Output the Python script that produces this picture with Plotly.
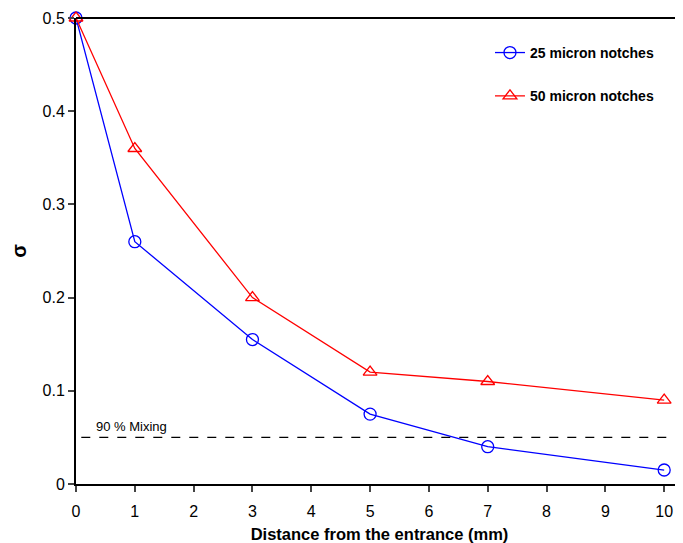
import plotly.graph_objects as go

distance = [0, 1, 3, 5, 7, 10]
sigma_25 = [0.5, 0.26, 0.155, 0.075, 0.04, 0.015]
sigma_50 = [0.5, 0.36, 0.2, 0.12, 0.11, 0.09]
mixing_level = 0.05
mixing_label = "90 % Mixing"
x_ticks = list(range(0, 11))
y_ticks = [0, 0.1, 0.2, 0.3, 0.4, 0.5]
y_tick_text = ["0", "0.1", "0.2", "0.3", "0.4", "0.5"]

FONT = "Liberation Sans, Arial, sans-serif"

fig = go.Figure()
fig.add_trace(go.Scatter(
    x=distance, y=sigma_25, mode="lines+markers", name="<b>25 micron notches</b>",
    line=dict(color="#0000ff", width=1.3), cliponaxis=False,
    marker=dict(symbol="circle-open", size=12, color="#0000ff", line=dict(width=1.3)),
    legend="legend", showlegend=True))
fig.add_trace(go.Scatter(
    x=distance, y=sigma_50, mode="lines+markers", name="<b>50 micron notches</b>",
    line=dict(color="#ff0000", width=1.3), cliponaxis=False,
    marker=dict(symbol="triangle-up-open", size=12, color="#ff0000", line=dict(width=1.3)),
    legend="legend2", showlegend=True))

fig.add_shape(type="line", xref="x", yref="y", x0=0.09, x1=10.4, y0=mixing_level, y1=mixing_level,
              line=dict(color="black", width=1.3, dash="dash"))
fig.add_shape(type="line", xref="paper", yref="paper", x0=0, x1=1, y0=1, y1=1,
              line=dict(color="black", width=2))
fig.add_annotation(x=0.3, y=mixing_level, xref="x", yref="y", text=mixing_label,
                   showarrow=False, xanchor="left", yanchor="bottom", yshift=1,
                   font=dict(family=FONT, size=13, color="black"))

legend_common = dict(bgcolor="rgba(0,0,0,0)", font=dict(family=FONT, size=14, color="black"),
                     xanchor="left", yanchor="middle", itemwidth=30, visible=True)
fig.update_layout(
    width=675, height=535,
    margin=dict(l=68, r=0, t=10, b=59, autoexpand=False),
    paper_bgcolor="white", plot_bgcolor="white",
    showlegend=True,
    legend=dict(x=0.682, y=0.925, **legend_common),
    legend2=dict(x=0.682, y=0.832, **legend_common),
    xaxis=dict(range=[0, 10.32], tickvals=x_ticks, ticks="outside", ticklen=6, tickwidth=1.5,
               showline=True, linecolor="black", linewidth=2, showgrid=False, zeroline=False,
               automargin=False, ticklabelstandoff=6,
               tickfont=dict(family=FONT, size=16, color="black"),
               title=dict(text="<b>Distance from the entrance (mm)</b>", standoff=10,
                          font=dict(family=FONT, size=16.5, color="black"))),
    yaxis=dict(range=[0, 0.5], tickvals=y_ticks, ticktext=y_tick_text, ticks="outside", ticklen=6,
               tickwidth=1.5, showline=True, linecolor="black", linewidth=2, showgrid=False,
               zeroline=False, automargin=False, tickfont=dict(family=FONT, size=16, color="black"),
               title=dict(text="<b>σ</b>", standoff=14,
                          font=dict(family=FONT, size=20, color="black"))),
)
fig.write_html("out.html")
